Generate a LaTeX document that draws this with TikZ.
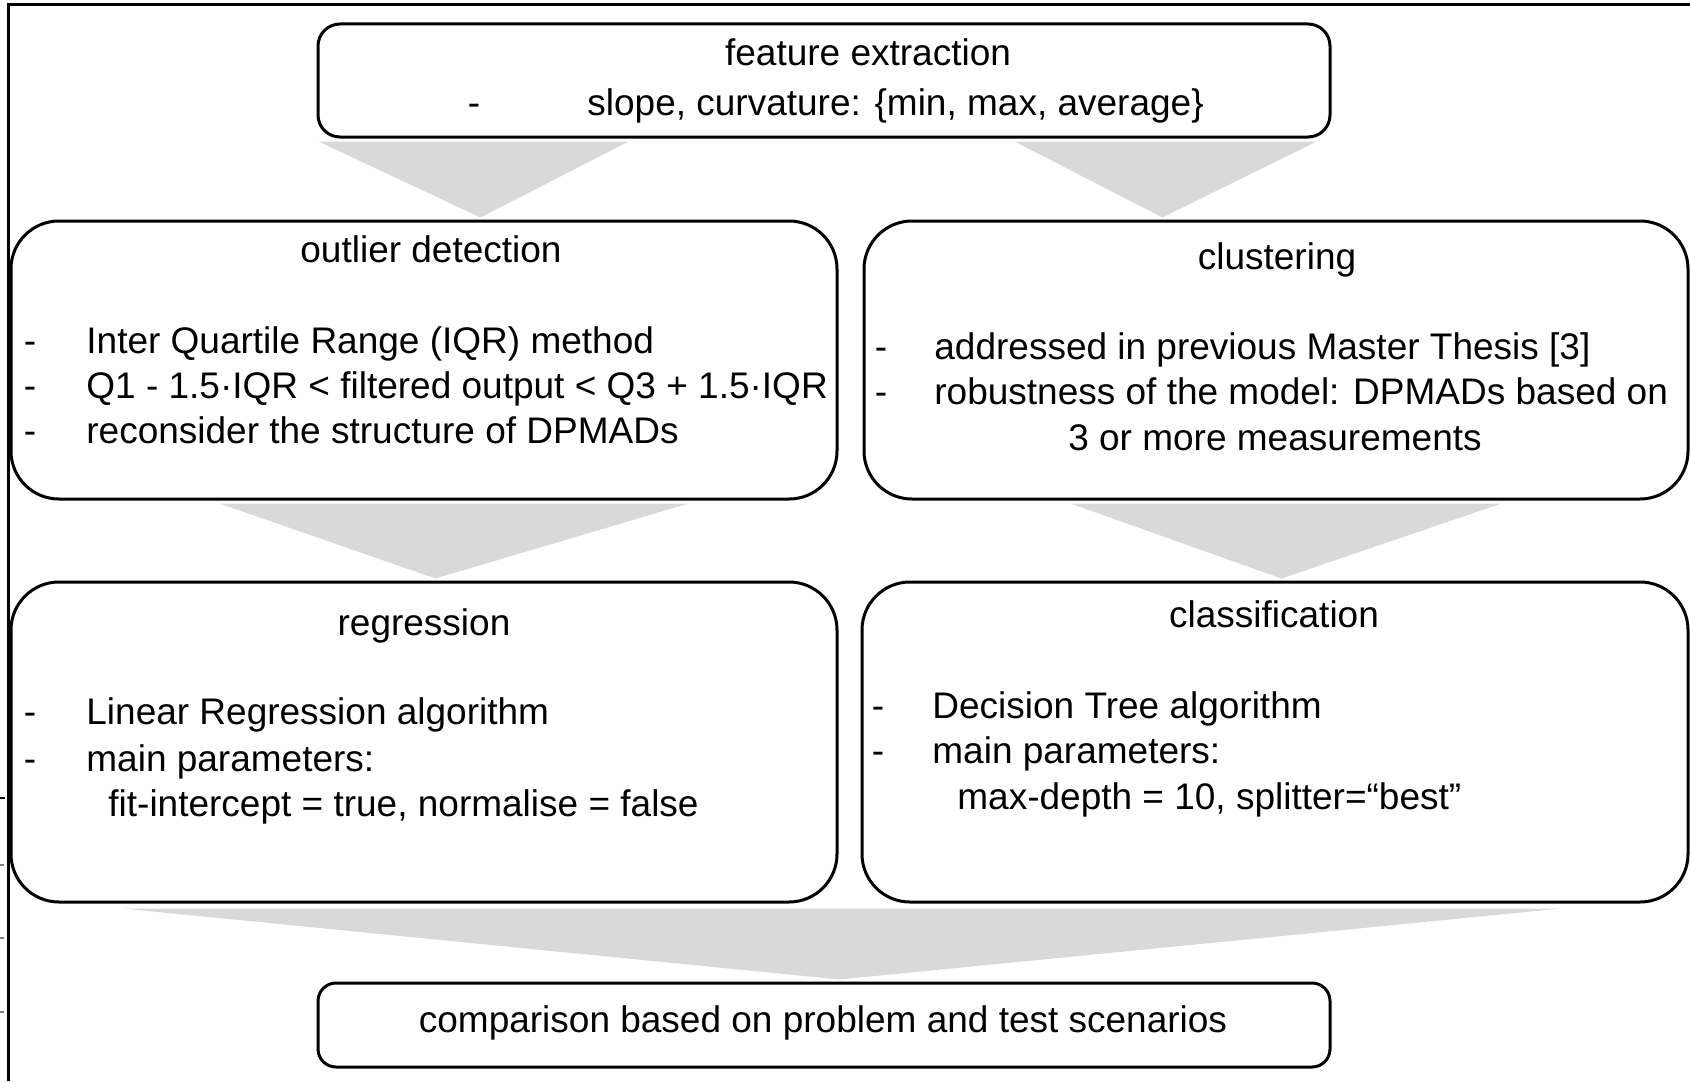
\documentclass[tikz,border=0pt]{standalone}
\usepackage{fontspec}
\setmainfont{Liberation Sans}
\usetikzlibrary{calc}

\definecolor{flowgray}{HTML}{D9D9D9}

\tikzset{
  box/.style={draw=black, line width=1.5pt, rounded corners=#1, fill=white,
              inner sep=0pt, anchor=center},
  box/.default=24pt,
  txt/.style={inner sep=0pt, anchor=base west,
              font=\fontsize{18.5pt}{22pt}\selectfont},
  ctxt/.style={inner sep=0pt, anchor=base,
               font=\fontsize{18.5pt}{22pt}\selectfont},
  flow/.style={fill=flowgray, draw=none},
  frameline/.style={line width=1.5pt}
}

\begin{document}
\begin{tikzpicture}[x=0.5pt, y=-0.5pt]
  \useasboundingbox (0,0) rectangle (1690,1081);

  % outer frame (left and top edges)
  \draw[frameline] (8,1081) -- (8,5) -- (1690,5);
  \draw[line width=0.8pt] (0,798) -- (5,798);
  \draw[line width=0.6pt, gray] (0,865) -- (4,865);
  \draw[line width=0.6pt, gray] (0,938) -- (4,938);
  \draw[line width=0.6pt, gray] (0,1012) -- (4,1012);

  % process boxes
  \node[box=11pt, minimum width=506pt, minimum height=56.5pt] (fe) at (824,80.5) {};
  \node[box, minimum width=413pt, minimum height=139pt] (od) at (424,360) {};
  \node[box, minimum width=412pt, minimum height=139pt] (cl) at (1276,360) {};
  \node[box, minimum width=413pt, minimum height=160pt] (rg) at (424,742) {};
  \node[box, minimum width=413pt, minimum height=160pt] (cf) at (1275,742) {};
  \node[box=9pt, minimum width=506pt, minimum height=42pt] (cmp) at (824,1025) {};

  % wide gray arrows between the stages
  \fill[flow] ([shift={(2,3)}]fe.south west) -- ([shift={(312,3)}]fe.south west)
              -- ([shift={(471,-2)}]od.north west) -- cycle;
  \fill[flow] ([shift={(-317,3)}]fe.south east) -- ([shift={(-15,3)}]fe.south east)
              -- ([shift={(300,-2)}]cl.north west) -- cycle;
  \fill[flow] ([shift={(210,3)}]od.south west) -- ([shift={(679,3)}]od.south west)
              -- ([shift={(426,-2)}]rg.north west) -- cycle;
  \fill[flow] ([shift={(208,3)}]cl.south west) -- ([shift={(639,3)}]cl.south west)
              -- ([shift={(421,-2)}]cf.north west) -- cycle;
  \fill[flow] ([shift={(113,5)}]rg.south west) -- ([shift={(701,5)}]cf.south west)
              -- ([shift={(523,-2)}]cmp.north west) -- cycle;

  % feature extraction
  \node[ctxt] (feT) at (868,66) {feature extraction};
  \node[ctxt] (feD) at (474,115) {-};
  \node[txt]  (feL) at (587,115) {slope, curvature: \{min, max, average\}};

  % outlier detection
  \node[ctxt] (odT) at (431,262) {outlier detection};
  \node[ctxt] (odD1) at (30,353) {-};
  \node[ctxt] (odD2) at (30,398) {-};
  \node[ctxt] (odD3) at (30,443) {-};
  \node[txt] (odL1) at (86,353) {Inter Quartile Range (IQR) method};
  \node[txt] (odL2) at (86,398) {Q1 - 1.5·IQR < filtered output < Q3 + 1.5·IQR};
  \node[txt] (odL3) at (86,443) {reconsider the structure of DPMADs};

  % clustering
  \node[ctxt] (clT) at (1277,269) {clustering};
  \node[ctxt] (clD1) at (881,359) {-};
  \node[ctxt] (clD2) at (881,404) {-};
  \node[txt] (clL1) at (934,359) {addressed in previous Master Thesis [3]};
  \node[txt] (clL2) at (934,404) {robustness of the model: DPMADs based on};
  \node[ctxt] (clL3) at (1275,450) {3 or more measurements};

  % regression
  \node[ctxt] (rgT) at (424,635) {regression};
  \node[ctxt] (rgD1) at (30,724) {-};
  \node[ctxt] (rgD2) at (30,771) {-};
  \node[txt] (rgL1) at (86,724) {Linear Regression algorithm};
  \node[txt] (rgL2) at (86,771) {main parameters:};
  \node[txt] (rgL3) at (108,816) {fit-intercept = true, normalise = false};

  % classification
  \node[ctxt] (cfT) at (1274,627) {classification};
  \node[ctxt] (cfD1) at (878,718) {-};
  \node[ctxt] (cfD2) at (878,763) {-};
  \node[txt] (cfL1) at (932,718) {Decision Tree algorithm};
  \node[txt] (cfL2) at (932,763) {main parameters:};
  \node[txt] (cfL3) at (957,809) {max-depth = 10, splitter=“best”};

  % comparison
  \node[ctxt] (cmpT) at (823,1032) {comparison based on problem and test scenarios};
\end{tikzpicture}
\end{document}
